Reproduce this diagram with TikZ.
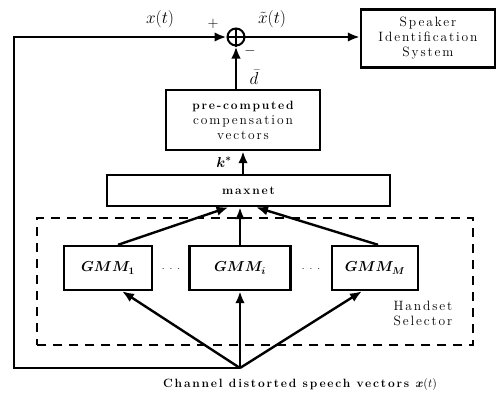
\documentclass[tikz,border=0pt]{standalone}
\usepackage{amsmath, amssymb}
\usepackage{fontspec}
\setmainfont{Latin Modern Roman}
\usepackage{tikz}
\usetikzlibrary{arrows.meta, positioning, calc}
\newcommand{\spc}{\fontsize{13.5}{15}\selectfont\addfontfeatures{LetterSpace=14}}
\newcommand{\bspc}{\fontsize{12}{14}\selectfont\bfseries\addfontfeatures{LetterSpace=15}}

\begin{document}
\begin{tikzpicture}[x=1pt, y=-1pt,
  blk/.style={draw, line width=2.4pt, inner sep=0pt, align=center, font=\spc},
  conn/.style={line width=2.4pt, -{Latex[length=12pt,width=9.5pt]}},
  lbl/.style={inner sep=0pt, font=\LARGE}]
\useasboundingbox (0,0) rectangle (496,394);

% 加算器と話者識別システム
\node[draw, circle, line width=2pt, minimum size=17pt, inner sep=0pt] (sum) at (236,37) {};
\draw[line width=1.4pt] (sum.north) -- (sum.south) (sum.west) -- (sum.east);
\node[blk, minimum width=134, minimum height=58] (spk) at (428,38.5)
  {Speaker\\Identification\\System};

% 補償ベクトルと maxnet
\node[blk, minimum width=154, minimum height=60] (pre) at (243,120)
  {{\bspc pre-computed}\\compensation\\vectors};
\node[blk, minimum width=283, minimum height=31, font=\bspc] (mx) at (248.5,190.5) {maxnet};

% ハンドセット選択部
\node[draw, line width=2.4pt, dash pattern=on 9pt off 7pt, minimum width=436, minimum height=127] (sel) at (255,281.5) {};
\node[blk, minimum width=88, minimum height=44] (g1) at (108,268) {\Large$\boldsymbol{GMM_1}$};
\node[blk, minimum width=101, minimum height=44] (gi) at (240,268) {\Large$\boldsymbol{GMM_i}$};
\node[blk, minimum width=86, minimum height=44] (gM) at (375,268) {\Large$\boldsymbol{GMM_M}$};
\node[inner sep=0pt] (d1) at (171,269) {$\cdot\;\cdot\;\cdot$};
\node[inner sep=0pt] (d2) at (311,269) {$\cdot\;\cdot\;\cdot$};
\node[inner sep=0pt, align=left, font=\spc] (hs) at (423,313) {Handset\\Selector};

% 入力
\coordinate (src) at (240,368);
\coordinate (lc) at (14,368);
\coordinate (tc) at (14,37);
\node[inner sep=0pt, font=\bspc] (cap) at (300,384) {Channel distorted speech vectors $\boldsymbol{x}(t)$};

% 接続
\draw[conn] (src) -- (lc) -- (tc) -- (sum.west);
\draw[conn] (sum.east) -- (sum.east -| spk.west);
\draw[conn] (pre.north -| sum) -- (sum.south);
\draw[conn] (mx.north -| pre) -- (pre.south);
\draw[conn] ($(g1.north)+(10,0)$) -- ($(mx.south)+(-20,0)$);
\draw[conn] (gi.north) -- (mx.south -| gi);
\draw[conn] ($(gM.north)+(3,0)$) -- ($(mx.south)+(7.5,0)$);
\draw[conn] (src) -- ($(g1.south)+(14,0)$);
\draw[conn] (src) -- (gi.south);
\draw[conn] (src) -- ($(gM.south)+(-13,0)$);

% ラベル
\node[lbl] (xt) at (160,19) {$x(t)$};
\node[lbl] (xtil) at (272,19) {$\tilde{x}(t)$};
\node[lbl] (dbar) at (254,77) {$\bar{d}$};
\node[inner sep=0pt, font=\Large] (plus) at (213,24) {$+$};
\node[inner sep=0pt, font=\Large] (minus) at (250,51) {$-$};
\node[inner sep=0pt, font=\Large] (kstar) at (224,162) {$\boldsymbol{k^{*}}$};

\end{tikzpicture}
\end{document}
